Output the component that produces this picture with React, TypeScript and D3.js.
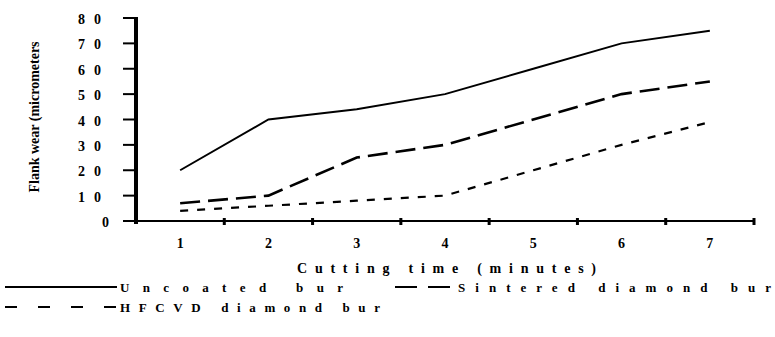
import React, { useEffect, useRef } from 'react';
import * as d3 from 'd3';

// cutting time (minutes)
const times = [1, 2, 3, 4, 5, 6, 7];
const yTicks = [0, 10, 20, 30, 40, 50, 60, 70, 80];

// flank wear (micrometers)
const uncoated = [20, 40, 44, 50, 60, 70, 75];
const sintered = [7, 10, 25, 30, 40, 50, 55];
const hfcvd = [4, 6, 8, 10, 20, 30, 39];

const seriesNames = ['Uncoated bur', 'Sintered diamond bur', 'HFCVD diamond bur'];

const FONT = '"Liberation Serif", "Times New Roman", serif';

export default function App() {
  const ref = useRef<SVGSVGElement | null>(null);

  useEffect(() => {
    const svg = d3.select(ref.current);
    svg.selectAll('*').remove();

    const x = d3.scaleBand<number>().domain(times).range([136, 754]).padding(0);
    const y = d3.scaleLinear().domain([0, 80]).range([221, 18]);
    const cx = (t: number) => (x(t) as number) + x.bandwidth() / 2;

    const g = svg.append('g').attr('font-family', FONT).attr('font-weight', 'bold');

    // y axis ticks + labels
    g.selectAll('.ytick')
      .data(yTicks)
      .enter()
      .append('line')
      .attr('x1', 123)
      .attr('x2', 136)
      .attr('y1', d => y(d))
      .attr('y2', d => y(d))
      .attr('stroke', '#000')
      .attr('stroke-width', 2);

    g.selectAll('.ylab')
      .data(yTicks)
      .enter()
      .append('text')
      .attr('x', d => (d === 0 ? 102 : 78))
      .attr('y', d => y(d) + 6)
      .attr('font-size', 14)
      .attr('letter-spacing', 9)
      .attr('fill', '#000')
      .text(d => String(d));

    // axes lines
    g.append('line')
      .attr('x1', 123).attr('x2', 754)
      .attr('y1', y(0)).attr('y2', y(0))
      .attr('stroke', '#000').attr('stroke-width', 2);
    g.append('line')
      .attr('x1', 136).attr('x2', 136)
      .attr('y1', y(80) - 1).attr('y2', y(0) + 3)
      .attr('stroke', '#000').attr('stroke-width', 4);

    // x ticks at band edges
    const edges = times.map(t => x(t) as number).concat([754]);
    g.selectAll('.xtick')
      .data(edges.slice(1))
      .enter()
      .append('rect')
      .attr('x', d => d - 1.5)
      .attr('y', y(0) - 3)
      .attr('width', 3)
      .attr('height', 7)
      .attr('fill', '#000');

    g.selectAll('.xlab')
      .data(times)
      .enter()
      .append('text')
      .attr('x', d => cx(d))
      .attr('y', 248)
      .attr('text-anchor', 'middle')
      .attr('font-size', 14)
      .attr('fill', '#000')
      .text(d => String(d));

    // axis titles
    g.append('text')
      .attr('x', 297)
      .attr('y', 273)
      .attr('font-size', 14)
      .attr('textLength', 299)
      .attr('lengthAdjust', 'spacing')
      .attr('fill', '#000')
      .text('Cutting time (minutes)');

    g.append('text')
      .attr('transform', 'translate(39,117) rotate(-90)')
      .attr('text-anchor', 'middle')
      .attr('font-size', 14)
      .attr('fill', '#000')
      .text('Flank wear (micrometers');

    // series lines
    const line = d3.line<number>()
      .x((_, i) => cx(times[i]))
      .y(d => y(d));

    const styles = [
      { data: uncoated, width: 2, dash: null, legendDash: null },
      { data: sintered, width: 2.6, dash: '20,8', legendDash: '22,11' },
      { data: hfcvd, width: 2.2, dash: '8,9', legendDash: '12,21' }
    ];

    styles.forEach(s => {
      g.append('path')
        .attr('d', line(s.data))
        .attr('fill', 'none')
        .attr('stroke', '#000')
        .attr('stroke-width', s.width)
        .attr('stroke-dasharray', s.dash);
    });

    // legend
    const legendPos = [
      { x1: 5, x2: 117, tx: 120, len: 223, y: 287 },
      { x1: 395, x2: 450, tx: 458, len: 313, y: 287 },
      { x1: 5, x2: 117, tx: 120, len: 260, y: 307 }
    ];

    legendPos.forEach((p, i) => {
      g.append('line')
        .attr('x1', p.x1).attr('x2', p.x2)
        .attr('y1', p.y).attr('y2', p.y)
        .attr('stroke', '#000')
        .attr('stroke-width', 2)
        .attr('stroke-dasharray', styles[i].legendDash);
      g.append('text')
        .attr('x', p.tx)
        .attr('y', p.y + 5)
        .attr('font-size', 13)
        .attr('textLength', p.len)
        .attr('lengthAdjust', 'spacing')
        .attr('fill', '#000')
        .text(seriesNames[i]);
    });
  }, []);

  return (
    <svg
      ref={ref}
      width={775}
      height={337}
      style={{ position: 'absolute', left: 0, top: 0, background: '#fff' }}
    />
  );
}
